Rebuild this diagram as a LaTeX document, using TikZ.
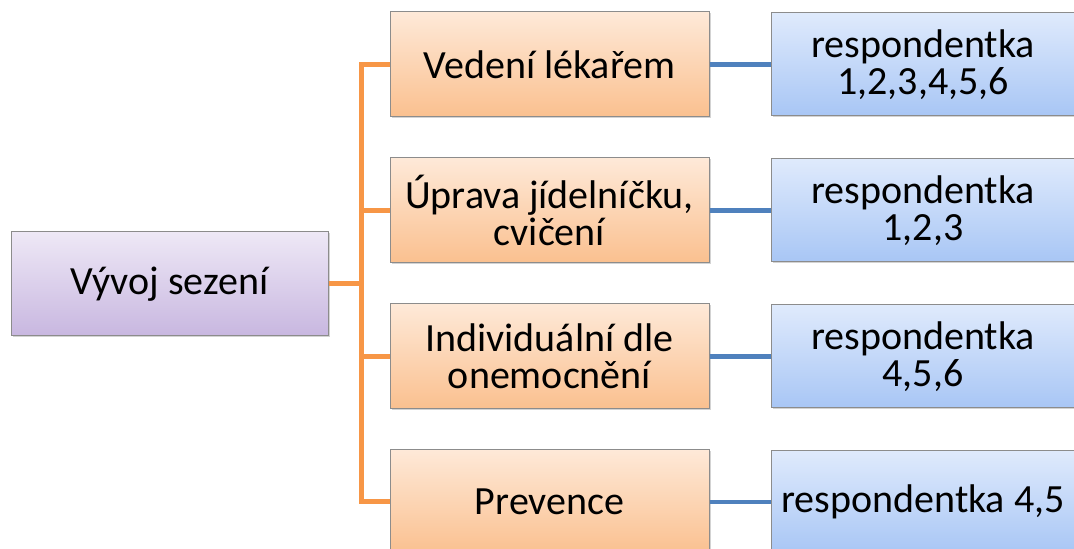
\documentclass[tikz,border=0pt]{standalone}
\usepackage{fontspec}
\setmainfont{Carlito}
\usetikzlibrary{positioning,shadows}

\definecolor{rootTop}{HTML}{EEE8F6}
\definecolor{rootBot}{HTML}{C8B7E0}
\definecolor{stepTop}{HTML}{FEE9D8}
\definecolor{stepBot}{HTML}{FAC08F}
\definecolor{respTop}{HTML}{DFEAFC}
\definecolor{respBot}{HTML}{A8C6F5}
\definecolor{orangeLn}{HTML}{F79646}
\definecolor{blueLn}{HTML}{4F81BD}

\tikzset{
  box/.style={draw=black!45, line width=1pt, align=center,
    font=\fontsize{40}{37}\selectfont,
    drop shadow={shadow xshift=1.5pt, shadow yshift=-1.5pt, opacity=0.35}},
  rootbox/.style={box, minimum width=317pt, minimum height=104pt,
    top color=rootTop, bottom color=rootBot},
  stepbox/.style={box, minimum width=319pt, minimum height=105pt,
    top color=stepTop, bottom color=stepBot},
  respbox/.style={box, minimum width=304pt, minimum height=103pt,
    top color=respTop, bottom color=respBot},
  orangeline/.style={draw=orangeLn, line width=5pt},
  blueline/.style={draw=blueLn, line width=4.5pt}
}

\begin{document}
\begin{tikzpicture}[x=1pt,y=1pt]
  \useasboundingbox (0,0) rectangle (1074,549);

  \node[rootbox] (root) at (169.5,265) {Vývoj sezení};

  \node[stepbox] (o1) at (549.5,484.5) {Vedení lékařem};
  \node[stepbox] (o2) at (549.5,338.5) {Úprava jídelníčku,\\cvičení};
  \node[stepbox] (o3) at (549.5,192.5) {Individuální dle\\onemocnění};
  \node[stepbox] (o4) at (549.5,47) {Prevence};

  \node[respbox,right=61pt of o1] (r1) {respondentka\\1,2,3,4,5,6};
  \node[respbox,right=61pt of o2] (r2) {respondentka\\1,2,3};
  \node[respbox,right=61pt of o3] (r3) {respondentka\\4,5,6};
  \node[respbox,right=61pt of o4] (r4) {respondentka 4,5};

  % tree lines
  \coordinate (trunk) at (361,265);
  \foreach \i in {1,...,4} {
    \draw[orangeline] (root.east) -| (trunk) |- (o\i.west);
    \draw[blueline] (o\i.east) -- (r\i.west);
  }
\end{tikzpicture}
\end{document}
